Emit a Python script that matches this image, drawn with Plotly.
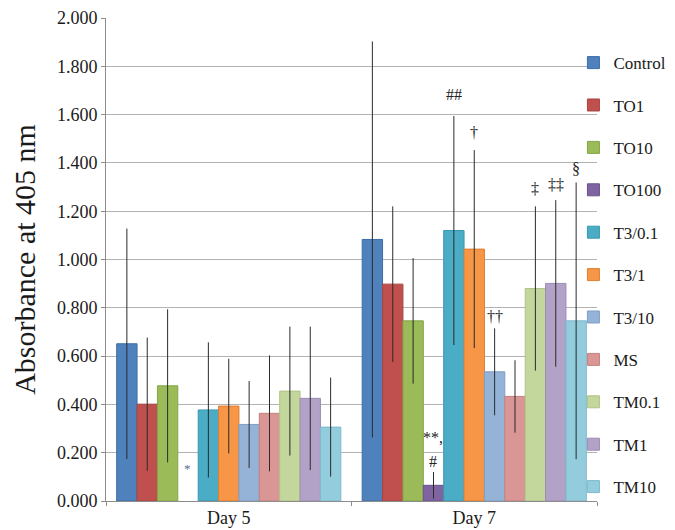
import plotly.graph_objects as go

days = ["Day 5", "Day 7"]
series = ["Control", "TO1", "TO10", "TO100", "T3/0.1", "T3/1", "T3/10", "MS", "TM0.1", "TM1", "TM10"]
colors = ["#4F81BD", "#C0504D", "#9BBB59", "#8064A2", "#4BACC6", "#F79646",
          "#95B3D7", "#D99694", "#C3D69B", "#B2A2C7", "#93CDDD"]
lines = ["#3C6EA8", "#A84340", "#84A448", "#6A5190", "#3A98B2", "#DE7F33",
         "#7F9FC8", "#C4807E", "#AFC487", "#9C8CB3", "#7EB9CA"]

day5_values = [0.651, 0.401, 0.477, None, 0.377, 0.393, 0.317, 0.363, 0.455, 0.425, 0.306]
day7_values = [1.083, 0.898, 0.746, 0.065, 1.120, 1.043, 0.535, 0.433, 0.880, 0.901, 0.746]
day5_errors = [0.477, 0.276, 0.317, None, 0.280, 0.196, 0.180, 0.240, 0.267, 0.297, 0.205]
day7_errors = [0.820, 0.322, 0.260, 0.055, 0.474, 0.410, 0.180, 0.150, 0.340, 0.345, 0.573]

# significance marks: (day, series index, y value, text)
marks_day = ["Day 5", "Day 7", "Day 7", "Day 7", "Day 7", "Day 7", "Day 7", "Day 7", "Day 7"]
marks_idx = [3, 3, 3, 4, 5, 6, 8, 9, 10]
marks_y = [0.135, 0.262, 0.165, 1.685, 1.525, 0.765, 1.295, 1.31, 1.375]
marks_text = ["*", "**,", "#", "##", "†", "††", "‡", "‡‡", "§"]

yticks = [0, 0.2, 0.4, 0.6, 0.8, 1.0, 1.2, 1.4, 1.6, 1.8, 2.0]

FONT = "Liberation Serif"
L, R, T, B = 98, 86, 10, 37
W, H = 675, 530
BARGAP = 0.087

fig = go.Figure()
for i, name in enumerate(series):
    fig.add_trace(go.Bar(
        name=name, x=days, y=[day5_values[i], day7_values[i]],
        marker=dict(color=colors[i], line=dict(color=lines[i], width=1)),
        error_y=dict(type="data", array=[day5_errors[i], day7_errors[i]],
                     color="#2a2a2a", thickness=1, width=0, visible=True),
        legendgroup=name,
    ))

plot_w = W - L - R
cat_w = plot_w / len(days)
bar_w = cat_w * (1 - BARGAP) / len(series)
n = len(series)
for d, idx, yv, txt in zip(marks_day, marks_idx, marks_y, marks_text):
    small = (d == "Day 5")
    fig.add_annotation(
        x=d, y=yv, text=txt, showarrow=False,
        xshift=(idx - (n - 1) / 2) * bar_w,
        font=dict(family=FONT, size=13 if small else 16,
                  color="#5a6a90" if small else "#222222"),
    )

fig.update_layout(
    width=W, height=H,
    margin=dict(l=L, r=R, t=T, b=B, autoexpand=False),
    paper_bgcolor="white", plot_bgcolor="white",
    barmode="group", bargap=BARGAP, bargroupgap=0,
    font=dict(family=FONT, size=18, color="#1a1a1a"),
    showlegend=True,
    legend=dict(x=0.952, xanchor="left", y=0.944, yanchor="top",
                font=dict(family=FONT, size=17, color="#1a1a1a"),
                tracegroupgap=17.3, bgcolor="rgba(0,0,0,0)"),
    xaxis=dict(
        showgrid=False, showline=True, linecolor="#8c8c8c", linewidth=1,
        ticks="outside", tickson="boundaries", ticklen=4, tickcolor="#8c8c8c",
        tickfont=dict(family=FONT, size=18, color="#1a1a1a"),
    ),
    yaxis=dict(
        range=[0, 2.0], tickvals=yticks, tickformat=".3f",
        showgrid=True, gridcolor="#b3b3b3", gridwidth=1.3,
        showline=True, linecolor="#8c8c8c", linewidth=1,
        ticks="outside", ticklen=4, tickcolor="#8c8c8c",
        tickfont=dict(family=FONT, size=18, color="#1a1a1a"),
        zeroline=False,
        title=dict(text="Absorbance at 405 nm", standoff=14,
                   font=dict(family=FONT, size=30, color="#1a1a1a")),
    ),
)

fig.write_html("out.html")
